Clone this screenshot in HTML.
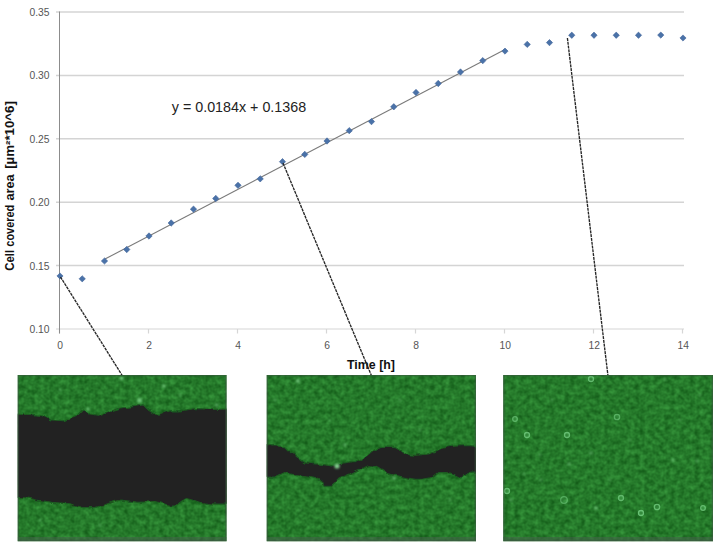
<!DOCTYPE html>
<html lang="en"><head><meta charset="utf-8"><title>Cell covered area over time</title>
<style>
html,body{margin:0;padding:0;background:#fff;}
body{width:728px;height:549px;overflow:hidden;}
svg{display:block;}
text{font-family:"Liberation Sans",sans-serif;}
.tk{font-size:10.3px;fill:#555;}
.ttl{font-size:12.4px;font-weight:bold;fill:#111;}
.ytl{font-size:11.9px;}
.eq{font-size:14.3px;fill:#222;}
</style></head><body>
<svg width="728" height="549" viewBox="0 0 728 549">
<defs>
<filter id="n1" x="0" y="0" width="100%" height="100%" color-interpolation-filters="sRGB">
<feTurbulence type="fractalNoise" baseFrequency="0.2" numOctaves="2" seed="3" result="t"/>
<feColorMatrix in="t" type="matrix" values="0 0.18 0 0 0.055  0 0.30 0 0 0.325  0 0.18 0 0 0.075  0 0 0 0 1"/>
</filter>
<filter id="bl" x="-5%" y="-10%" width="110%" height="120%"><feTurbulence type="fractalNoise" baseFrequency="0.12" numOctaves="2" seed="11" result="d"/><feDisplacementMap in="SourceGraphic" in2="d" scale="4.5" xChannelSelector="R" yChannelSelector="G" result="m"/><feGaussianBlur in="m" stdDeviation="0.7"/></filter>
<filter id="bl3" x="-50%" y="-50%" width="200%" height="200%"><feGaussianBlur stdDeviation="0.75"/></filter>
<filter id="bl2" x="-50%" y="-50%" width="200%" height="200%"><feGaussianBlur stdDeviation="0.8"/></filter>
</defs>
<rect width="728" height="549" fill="#fff"/>

<g stroke="#d4d4d4" stroke-width="1.5" fill="none">
<line x1="56" y1="265.6" x2="684" y2="265.6"/>
<line x1="56" y1="202.2" x2="684" y2="202.2"/>
<line x1="56" y1="138.8" x2="684" y2="138.8"/>
<line x1="56" y1="75.4" x2="684" y2="75.4"/>
<line x1="56" y1="12.0" x2="684" y2="12.0"/>
</g>
<g stroke="#d6d6d6" stroke-width="1.2"><line x1="56" y1="329.0" x2="684" y2="329.0"/>
<line x1="59.5" y1="329.0" x2="59.5" y2="333.5"/>
<line x1="148.5" y1="329.0" x2="148.5" y2="333.5"/>
<line x1="237.5" y1="329.0" x2="237.5" y2="333.5"/>
<line x1="326.5" y1="329.0" x2="326.5" y2="333.5"/>
<line x1="415.5" y1="329.0" x2="415.5" y2="333.5"/>
<line x1="504.5" y1="329.0" x2="504.5" y2="333.5"/>
<line x1="593.5" y1="329.0" x2="593.5" y2="333.5"/>
<line x1="682.5" y1="329.0" x2="682.5" y2="333.5"/>
</g>
<line x1="59.5" y1="11.5" x2="59.5" y2="333.5" stroke="#8c8c8c" stroke-width="1"/>
<g class="tk" text-anchor="end">
<text x="49.5" y="332.9">0.10</text>
<text x="49.5" y="269.5">0.15</text>
<text x="49.5" y="206.1">0.20</text>
<text x="49.5" y="142.7">0.25</text>
<text x="49.5" y="79.3">0.30</text>
<text x="49.5" y="15.9">0.35</text>
</g>
<g class="tk" text-anchor="middle">
<text x="60.2" y="348.8">0</text>
<text x="149.2" y="348.8">2</text>
<text x="238.2" y="348.8">4</text>
<text x="327.2" y="348.8">6</text>
<text x="416.2" y="348.8">8</text>
<text x="505.2" y="348.8">10</text>
<text x="594.2" y="348.8">12</text>
<text x="683.2" y="348.8">14</text>
</g>
<text class="ttl ytl" transform="translate(14.3 0) rotate(-90)"><tspan x="-270.8" textLength="20.9" lengthAdjust="spacingAndGlyphs">Cell</tspan> <tspan x="-246.7" textLength="41.9" lengthAdjust="spacingAndGlyphs">covered</tspan> <tspan x="-200.6" textLength="26.2" lengthAdjust="spacingAndGlyphs">area</tspan> <tspan x="-168.8" textLength="67.6" lengthAdjust="spacingAndGlyphs">[µm²*10^6]</tspan></text>
<text class="ttl" x="347" y="368.6">Time [h]</text>
<text class="eq" x="171.8" y="112.2">y = 0.0184x + 0.1368</text>
<line x1="104.5" y1="259.3" x2="505.0" y2="49.5" stroke="#7a7a7a" stroke-width="1.1"/>
<g fill="#4a72a8" stroke="#41659a" stroke-width="0.6">
<path d="M60.0 272.9L63.1 276.0L60.0 279.1L56.9 276.0Z"/>
<path d="M82.2 275.7L85.4 278.8L82.2 281.9L79.1 278.8Z"/>
<path d="M104.5 257.9L107.7 261.0L104.5 264.1L101.3 261.0Z"/>
<path d="M126.8 246.3L129.9 249.5L126.8 252.7L123.6 249.5Z"/>
<path d="M149.0 232.8L152.2 236.0L149.0 239.2L145.8 236.0Z"/>
<path d="M171.2 219.8L174.4 223.0L171.2 226.2L168.1 223.0Z"/>
<path d="M193.5 206.0L196.7 209.2L193.5 212.3L190.3 209.2Z"/>
<path d="M215.8 195.3L218.9 198.5L215.8 201.7L212.6 198.5Z"/>
<path d="M238.0 182.2L241.2 185.3L238.0 188.5L234.8 185.3Z"/>
<path d="M260.2 175.7L263.4 178.8L260.2 182.0L257.1 178.8Z"/>
<path d="M282.5 158.5L285.6 161.7L282.5 164.8L279.4 161.7Z"/>
<path d="M304.8 151.2L307.9 154.4L304.8 157.6L301.6 154.4Z"/>
<path d="M327.0 137.8L330.1 141.0L327.0 144.2L323.9 141.0Z"/>
<path d="M349.2 127.5L352.4 130.7L349.2 133.8L346.1 130.7Z"/>
<path d="M371.5 118.4L374.6 121.6L371.5 124.8L368.4 121.6Z"/>
<path d="M393.8 103.6L396.9 106.8L393.8 110.0L390.6 106.8Z"/>
<path d="M416.0 89.3L419.1 92.5L416.0 95.7L412.9 92.5Z"/>
<path d="M438.2 80.3L441.4 83.5L438.2 86.7L435.1 83.5Z"/>
<path d="M460.5 68.8L463.6 72.0L460.5 75.2L457.4 72.0Z"/>
<path d="M482.8 57.5L485.9 60.6L482.8 63.8L479.6 60.6Z"/>
<path d="M505.0 48.0L508.1 51.1L505.0 54.2L501.9 51.1Z"/>
<path d="M527.2 41.2L530.4 44.4L527.2 47.5L524.1 44.4Z"/>
<path d="M549.5 39.5L552.6 42.6L549.5 45.8L546.4 42.6Z"/>
<path d="M571.8 32.1L574.9 35.2L571.8 38.4L568.6 35.2Z"/>
<path d="M594.0 32.1L597.1 35.2L594.0 38.4L590.9 35.2Z"/>
<path d="M616.2 32.1L619.4 35.2L616.2 38.4L613.1 35.2Z"/>
<path d="M638.5 32.1L641.6 35.2L638.5 38.4L635.4 35.2Z"/>
<path d="M660.8 32.0L663.9 35.1L660.8 38.2L657.6 35.1Z"/>
<path d="M683.0 34.9L686.1 38.0L683.0 41.1L679.9 38.0Z"/>
</g>
<g stroke="#262626" stroke-width="1.35" stroke-dasharray="3 0.8" fill="none">
<line x1="60.5" y1="277" x2="122.5" y2="376"/>
<line x1="283" y1="163" x2="371.6" y2="376"/>
<line x1="567.4" y1="38" x2="608" y2="376"/>
</g>
<clipPath id="c1"><rect x="17.7" y="374.9" width="208.9" height="166.30000000000007"/></clipPath>
<g clip-path="url(#c1)">
<rect x="17.7" y="374.9" width="208.9" height="166.30000000000007" fill="#267a2b" filter="url(#n1)"/>
<path d="M10.0 414.0 L30.0 414.5 L41.0 415.3 L46.0 417.5 L52.0 420.0 L64.0 420.6 L70.0 418.0 L77.5 415.0 L82.0 410.5 L86.0 412.5 L90.0 414.0 L98.6 415.3 L104.0 413.0 L110.7 410.8 L120.0 408.0 L135.0 406.3 L144.0 404.8 L150.0 410.5 L155.0 413.5 L159.0 415.3 L164.0 413.0 L170.0 410.8 L180.0 410.8 L188.0 409.5 L195.5 408.5 L210.7 409.3 L234.0 409.0 L234.0 504.5 L210.7 503.8 L198.6 502.3 L192.0 500.0 L186.5 498.5 L182.0 501.0 L177.4 504.5 L170.0 505.3 L163.0 503.5 L154.8 501.5 L146.0 502.0 L138.0 502.3 L130.0 501.2 L120.0 500.0 L114.0 501.5 L107.7 503.8 L102.0 505.5 L95.6 507.5 L82.0 507.5 L76.0 506.0 L70.0 503.8 L62.0 503.2 L51.8 502.3 L36.7 500.0 L28.0 498.0 L10.0 497.0Z" fill="#212121" stroke="#1c5a20" stroke-width="1.2" stroke-linejoin="round" filter="url(#bl)"/>
<circle cx="121.5" cy="378.3" r="1.7" fill="#86dc92" opacity="0.95" filter="url(#bl2)"/>
<circle cx="163.8" cy="386.0" r="1.6" fill="#86dc92" opacity="0.85" filter="url(#bl2)"/>
<circle cx="139.6" cy="400.5" r="2.4" fill="#86dc92" opacity="0.80" filter="url(#bl2)"/>
<circle cx="88.0" cy="409.0" r="1.8" fill="#86dc92" opacity="0.65" filter="url(#bl2)"/>
<circle cx="216.7" cy="405.0" r="1.6" fill="#86dc92" opacity="0.65" filter="url(#bl2)"/>
<circle cx="223.0" cy="520.0" r="1.5" fill="#86dc92" opacity="0.65" filter="url(#bl2)"/>
<circle cx="60.0" cy="390.0" r="1.2" fill="#86dc92" opacity="0.55" filter="url(#bl2)"/>
<circle cx="180.0" cy="395.0" r="1.2" fill="#86dc92" opacity="0.55" filter="url(#bl2)"/>
<circle cx="100.0" cy="525.0" r="1.2" fill="#86dc92" opacity="0.55" filter="url(#bl2)"/>
<circle cx="40.0" cy="520.0" r="1.2" fill="#86dc92" opacity="0.55" filter="url(#bl2)"/>
<rect x="17.7" y="537.0" width="208.9" height="4.2" fill="#46604a" opacity="0.55"/>
<rect x="17.7" y="374.9" width="208.9" height="166.3" fill="none" stroke="#3a5540" stroke-opacity="0.55" stroke-width="2.8"/>
</g>
<clipPath id="c2"><rect x="266.7" y="374.9" width="209.3" height="166.30000000000007"/></clipPath>
<g clip-path="url(#c2)">
<rect x="266.7" y="374.9" width="209.3" height="166.30000000000007" fill="#267a2b" filter="url(#n1)"/>
<path d="M259.0 445.6 L275.0 445.8 L284.7 446.6 L288.0 450.0 L292.2 453.7 L298.0 458.5 L304.3 462.8 L313.0 463.7 L322.4 464.3 L331.5 465.8 L337.0 464.5 L343.6 462.8 L355.7 461.3 L361.0 459.0 L366.3 456.0 L370.0 453.7 L374.5 450.0 L379.0 447.7 L387.0 447.2 L395.7 447.7 L400.0 450.5 L404.8 454.5 L415.3 455.2 L423.0 454.6 L430.4 453.7 L436.0 451.0 L441.0 448.4 L447.0 447.0 L454.6 446.2 L466.7 445.4 L484.0 446.9 L484.0 472.6 L468.2 473.4 L464.5 476.0 L460.7 477.9 L456.0 475.5 L451.6 473.4 L445.0 472.6 L438.0 472.6 L434.0 475.5 L430.4 477.9 L423.0 479.0 L415.3 479.4 L408.0 478.2 L400.2 476.4 L393.0 475.2 L386.6 473.4 L379.0 468.8 L374.5 466.5 L370.0 465.5 L364.8 467.3 L355.7 471.1 L351.0 473.5 L346.6 475.6 L342.0 477.0 L337.6 479.4 L334.5 483.0 L331.5 485.4 L325.5 485.4 L321.5 482.5 L317.9 479.4 L313.0 478.0 L307.3 477.1 L296.8 475.6 L291.0 474.0 L284.7 472.6 L280.0 474.7 L275.6 476.9 L259.0 477.6Z" fill="#212121" stroke="#1c5a20" stroke-width="1.2" stroke-linejoin="round" filter="url(#bl)"/>
<circle cx="298.0" cy="381.0" r="2" fill="#86dc92" opacity="0.75" filter="url(#bl2)"/>
<circle cx="337.0" cy="466.0" r="2.6" fill="#86dc92" opacity="0.95" filter="url(#bl2)"/>
<circle cx="345.0" cy="445.0" r="1.4" fill="#86dc92" opacity="0.65" filter="url(#bl2)"/>
<circle cx="394.0" cy="478.0" r="1.8" fill="#86dc92" opacity="0.65" filter="url(#bl2)"/>
<circle cx="278.0" cy="541.0" r="1.6" fill="#86dc92" opacity="0.65" filter="url(#bl2)"/>
<circle cx="275.0" cy="400.0" r="1.2" fill="#86dc92" opacity="0.55" filter="url(#bl2)"/>
<circle cx="420.0" cy="430.0" r="1.2" fill="#86dc92" opacity="0.55" filter="url(#bl2)"/>
<circle cx="330.0" cy="420.0" r="1.1" fill="#86dc92" opacity="0.50" filter="url(#bl2)"/>
<circle cx="450.0" cy="500.0" r="1.2" fill="#86dc92" opacity="0.55" filter="url(#bl2)"/>
<circle cx="300.0" cy="510.0" r="1.1" fill="#86dc92" opacity="0.50" filter="url(#bl2)"/>
<circle cx="400.0" cy="400.0" r="1.2" fill="#86dc92" opacity="0.50" filter="url(#bl2)"/>
<rect x="266.7" y="537.0" width="209.3" height="4.2" fill="#46604a" opacity="0.55"/>
<rect x="266.7" y="374.9" width="209.3" height="166.3" fill="none" stroke="#3a5540" stroke-opacity="0.55" stroke-width="2.8"/>
</g>
<clipPath id="c3"><rect x="503.2" y="374.9" width="209.8" height="166.30000000000007"/></clipPath>
<g clip-path="url(#c3)">
<rect x="503.2" y="374.9" width="209.8" height="166.30000000000007" fill="#277a2e" filter="url(#n1)"/>
<circle cx="591.0" cy="379.0" r="2.5" fill="#5fbf6e" fill-opacity="0.35" stroke="#7ad388" stroke-width="1.3" opacity="0.75" filter="url(#bl3)"/>
<circle cx="527.0" cy="435.0" r="2.5" fill="#5fbf6e" fill-opacity="0.35" stroke="#7ad388" stroke-width="1.3" opacity="0.75" filter="url(#bl3)"/>
<circle cx="567.0" cy="435.0" r="2.5" fill="#5fbf6e" fill-opacity="0.35" stroke="#7ad388" stroke-width="1.3" opacity="0.75" filter="url(#bl3)"/>
<circle cx="515.0" cy="419.0" r="2.3" fill="#5fbf6e" fill-opacity="0.35" stroke="#7ad388" stroke-width="1.3" opacity="0.65" filter="url(#bl3)"/>
<circle cx="617.0" cy="417.0" r="2.6999999999999997" fill="#5fbf6e" fill-opacity="0.35" stroke="#7ad388" stroke-width="1.3" opacity="0.60" filter="url(#bl3)"/>
<circle cx="591.0" cy="453.0" r="1.6" fill="#86dc92" opacity="0.65" filter="url(#bl2)"/>
<circle cx="507.0" cy="491.0" r="2.5" fill="#5fbf6e" fill-opacity="0.35" stroke="#7ad388" stroke-width="1.3" opacity="0.75" filter="url(#bl3)"/>
<circle cx="569.0" cy="464.0" r="1.8" fill="#86dc92" opacity="0.55" filter="url(#bl2)"/>
<circle cx="564.0" cy="500.0" r="3.3" fill="#5fbf6e" fill-opacity="0.35" stroke="#7ad388" stroke-width="1.3" opacity="0.55" filter="url(#bl3)"/>
<circle cx="596.0" cy="508.0" r="1.8" fill="#86dc92" opacity="0.75" filter="url(#bl2)"/>
<circle cx="621.0" cy="498.0" r="2.5" fill="#5fbf6e" fill-opacity="0.35" stroke="#7ad388" stroke-width="1.3" opacity="0.70" filter="url(#bl3)"/>
<circle cx="641.0" cy="513.0" r="2.5" fill="#5fbf6e" fill-opacity="0.35" stroke="#7ad388" stroke-width="1.3" opacity="0.80" filter="url(#bl3)"/>
<circle cx="657.0" cy="507.0" r="2.6999999999999997" fill="#5fbf6e" fill-opacity="0.35" stroke="#7ad388" stroke-width="1.3" opacity="0.75" filter="url(#bl3)"/>
<circle cx="703.0" cy="508.0" r="2.3" fill="#5fbf6e" fill-opacity="0.35" stroke="#7ad388" stroke-width="1.3" opacity="0.75" filter="url(#bl3)"/>
<circle cx="673.0" cy="460.0" r="1.6" fill="#86dc92" opacity="0.65" filter="url(#bl2)"/>
<circle cx="697.0" cy="461.0" r="1.4" fill="#86dc92" opacity="0.55" filter="url(#bl2)"/>
<circle cx="541.0" cy="480.0" r="1.4" fill="#86dc92" opacity="0.50" filter="url(#bl2)"/>
<circle cx="524.0" cy="474.0" r="1.3" fill="#86dc92" opacity="0.50" filter="url(#bl2)"/>
<circle cx="665.0" cy="379.0" r="1.5" fill="#86dc92" opacity="0.50" filter="url(#bl2)"/>
<circle cx="511.0" cy="500.0" r="1.6" fill="#86dc92" opacity="0.55" filter="url(#bl2)"/>
<circle cx="540.0" cy="455.0" r="1.4" fill="#86dc92" opacity="0.45" filter="url(#bl2)"/>
<circle cx="630.0" cy="440.0" r="1.3" fill="#86dc92" opacity="0.45" filter="url(#bl2)"/>
<circle cx="680.0" cy="420.0" r="1.3" fill="#86dc92" opacity="0.45" filter="url(#bl2)"/>
<circle cx="610.0" cy="480.0" r="1.3" fill="#86dc92" opacity="0.45" filter="url(#bl2)"/>
<circle cx="700.0" cy="395.0" r="1.3" fill="#86dc92" opacity="0.45" filter="url(#bl2)"/>
<circle cx="552.0" cy="400.0" r="1.3" fill="#86dc92" opacity="0.45" filter="url(#bl2)"/>
<rect x="503.2" y="537.0" width="209.8" height="4.2" fill="#46604a" opacity="0.55"/>
<rect x="503.2" y="374.9" width="209.8" height="166.3" fill="none" stroke="#3a5540" stroke-opacity="0.55" stroke-width="2.8"/>
</g>
</svg></body></html>
